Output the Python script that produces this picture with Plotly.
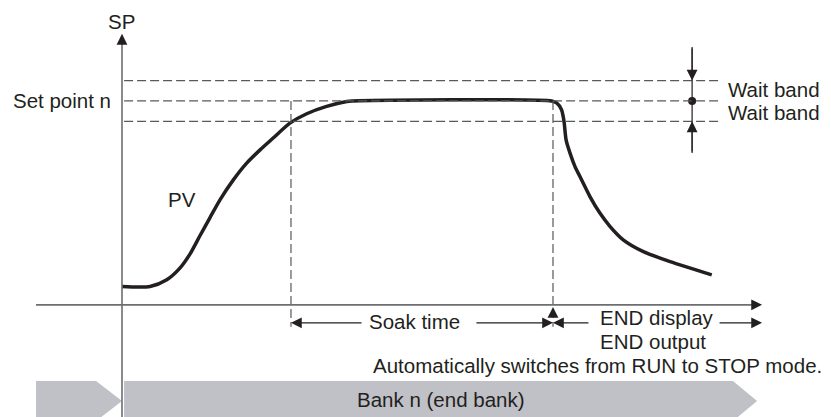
import plotly.graph_objects as go

# ---- process values (time in arbitrary units, SP in % of set point) ----
set_point = 100
wait_band = 10
soak_start = 64.5
soak_end = 164.5

pv_time = [0, 10.7, 17.1, 22.1, 26.0, 29.8, 33.6, 37.4, 42.5, 47.6, 52.7, 57.7,
           64.1, 70.5, 78.1, 85.8, 87.8,
           164.0, 165.9, 167.8, 168.4, 168.8, 169.5, 171.0, 172.9, 174.8,
           178.6, 182.4, 186.3, 191.3, 199.0, 209.2, 225.1]
pv_value = [9.0, 9.0, 12.3, 18.0, 25.0, 34.0, 42.8, 51.5, 61.3, 69.5, 76.0, 81.8,
            89.1, 93.7, 97.3, 99.7, 100,
            100, 99.0, 95.6, 92.3, 89.1, 80.9, 74.4, 67.8, 62.9,
            53.1, 45.0, 38.4, 31.9, 26.1, 21.2, 14.7]

# ---- frame of the diagram ----
t_min, t_max = -46.56, 270.61
y_min, y_max = -55.0, 149.5
axis_left = -32.8
axis_right = 244.3
axis_top = 132.9
band_line_end = 228.2
band_marker_t = 217.6
row_y = -8.8
bar_top, bar_mid, bar_bot = -37.3, -47.1, -57.0

INK = "#231f20"
GREY = "#6d6e71"
DASH = "#58595b"
BAR = "#bfc1c7"
FONT = dict(family="Liberation Sans, Arial, sans-serif", size=20.5, color=INK)

fig = go.Figure()

shapes = []
# bank bars (chevrons)
shapes.append(dict(type="path", xref="x", yref="y", line=dict(width=0), fillcolor=BAR, layer="below",
                   path=f"M{axis_left},{bar_top} L-9.9,{bar_top} L0,{bar_mid} L-9.9,{bar_bot} L{axis_left},{bar_bot} Z"))
shapes.append(dict(type="path", xref="x", yref="y", line=dict(width=0), fillcolor=BAR, layer="below",
                   path=f"M0.8,{bar_top} L233.2,{bar_top} L242.4,{bar_mid} L233.2,{bar_bot} L0.8,{bar_bot} Z"))

# horizontal dashed lines: upper band, set point, lower band
for lvl in (set_point + wait_band, set_point, set_point - wait_band):
    shapes.append(dict(type="line", xref="x", yref="y", x0=0.8, x1=band_line_end, y0=lvl, y1=lvl,
                       line=dict(color=DASH, width=1.2, dash="9px,4px")))
# vertical dashed lines at soak start and end
for tv in (soak_start, soak_end):
    shapes.append(dict(type="line", xref="x", yref="y", x0=tv, x1=tv, y0=set_point, y1=-10.8,
                       line=dict(color=DASH, width=1.2, dash="9px,4px")))
# axes
shapes.append(dict(type="line", xref="x", yref="y", x0=0, x1=0, y0=bar_bot, y1=axis_top - 4,
                   line=dict(color=GREY, width=1.6)))
shapes.append(dict(type="line", xref="x", yref="y", x0=axis_left, x1=axis_right - 3, y0=0, y1=0,
                   line=dict(color=GREY, width=1.6)))
# wait band measuring line
shapes.append(dict(type="line", xref="x", yref="y", x0=band_marker_t, x1=band_marker_t, y0=126.5, y1=74.5,
                   line=dict(color=INK, width=1.2)))

fig.update_layout(shapes=shapes)

# PV curve
fig.add_trace(go.Scatter(x=pv_time, y=pv_value, mode="lines",
                         line=dict(color=INK, width=3.5, shape="spline", smoothing=0.7),
                         hoverinfo="skip", showlegend=False))
# set point marker on the wait band scale
fig.add_trace(go.Scatter(x=[band_marker_t], y=[set_point], mode="markers",
                         marker=dict(color=INK, size=8), hoverinfo="skip", showlegend=False))

ann = []


def arrow(tip_x, tip_y, tail_x, tail_y, color=INK, width=1.2):
    ann.append(dict(x=tip_x, y=tip_y, ax=tail_x, ay=tail_y, xref="x", yref="y", axref="x", ayref="y",
                    text="", showarrow=True, arrowhead=2, arrowsize=1.8, arrowwidth=width,
                    arrowcolor=color, standoff=0, startstandoff=0))


# axis heads
arrow(0, axis_top, 0, axis_top - 6)
arrow(axis_right, 0, axis_right - 4, 0)
# wait band arrows
arrow(band_marker_t, set_point + wait_band, band_marker_t, 126.5)
arrow(band_marker_t, set_point - wait_band, band_marker_t, 74.5)
# end-of-soak marker on time axis
arrow(soak_end, -1.0, soak_end, -4.5)
# soak time span
arrow(soak_start, row_y, 92.0, row_y)
arrow(soak_end, row_y, 134.7, row_y)
# END display span
arrow(soak_end, row_y, 178.6, row_y)
arrow(axis_right, row_y, 227.5, row_y)


def label(x, y, text, xanchor="center"):
    ann.append(dict(x=x, y=y, xref="x", yref="y", text=text, showarrow=False,
                    xanchor=xanchor, yanchor="middle", font=FONT))


label(0, 139.0, "SP")
label(-3.4, set_point, "Set point n", "right")
label(22.9, 51.5, "PV")
label(230.5, 105.4, "Wait band", "left")
label(230.5, 94.2, "Wait band", "left")
label(111.8, -8.3, "Soak time")
label(181.7, -6.4, "END display", "left")
label(181.7, -18.1, "END output", "left")
label(267.9, -29.9, "Automatically switches from RUN to STOP mode.", "right")
label(121.8, -46.6, "Bank n (end bank)")

fig.update_layout(
    annotations=ann,
    width=831, height=417, autosize=False,
    margin=dict(l=0, r=0, t=0, b=0, pad=0),
    paper_bgcolor="white", plot_bgcolor="white",
    xaxis=dict(range=[t_min, t_max], visible=False, fixedrange=True),
    yaxis=dict(range=[y_min, y_max], visible=False, fixedrange=True),
    showlegend=False,
)

fig.write_html("out.html")
